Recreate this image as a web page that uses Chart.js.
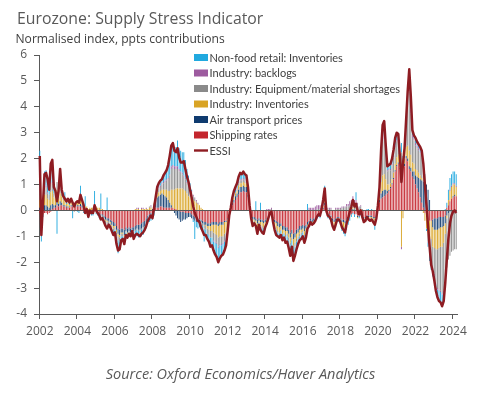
<!DOCTYPE html>
<html><head><meta charset="utf-8">
<script src="https://cdn.jsdelivr.net/npm/chart.js@4.4.1/dist/chart.umd.min.js"></script>
<style>
html,body{margin:0;padding:0;background:#fff;width:481px;height:395px;overflow:hidden;}
#wrap{position:relative;width:481px;height:395px;}
canvas{position:absolute;left:0;top:0;}
.t{position:absolute;font-family:"Open Sans",sans-serif;white-space:nowrap;}
#title{left:17px;top:10.5px;font-size:15.8px;line-height:15.8px;color:#595959;}
#sub{left:15.5px;top:33px;font-size:12.1px;line-height:12.1px;color:#404040;}
#src{left:0;width:481px;text-align:center;top:367px;font-size:14.5px;line-height:14.5px;font-style:italic;color:#595959;}
</style></head><body>
<div id="wrap">
<canvas id="c" width="481" height="395"></canvas>
<div class="t" id="title">Eurozone: Supply Stress Indicator</div>
<div class="t" id="sub">Normalised index, ppts contributions</div>
<div class="t" id="src">Source: Oxford Economics/Haver Analytics</div>
</div>
<script>
// Monthly data, Jan 2002 - Mar 2024
const START_YEAR = 2002;
const xTickYears = [2002,2004,2006,2008,2010,2012,2014,2016,2018,2020,2022,2024];
const yTicks = [-4,-3,-2,-1,0,1,2,3,4,5,6];

const essi = [
 2.1,-0.95,0.2,1.4,1.45,1.2,0.8,1.8,1.95,0.9,0.75,0.35,
 0.75,1.6,0.8,0.55,0.45,0.35,0.45,0.3,0.45,0.3,0.15,0.3,
 0.35,0.3,0.6,0.4,0.2,-0.1,0.05,-0.25,0.0,-0.1,-0.1,0.2,
 0.0,-0.1,-0.2,-0.35,-0.3,-0.45,-0.6,-0.7,-0.55,-0.65,-0.8,-0.95,
 -0.85,-1.3,-1.55,-1.5,-1.15,-1.1,-1.3,-0.95,-1.05,-0.9,-1.0,-0.8,
 -1.1,-0.95,-0.9,-0.95,-1.0,-0.9,-0.85,-0.75,-0.6,-0.4,-0.3,-0.2,
 -0.3,0.1,0.5,0.9,1.05,1.15,1.2,1.35,1.45,1.55,1.75,2.1,
 2.5,2.6,2.3,2.25,2.4,2.05,1.85,1.85,1.9,1.6,1.3,1.1,
 0.8,0.5,0.15,-0.1,-0.25,-0.4,-0.45,-0.65,-0.8,-0.95,-0.95,-1.1,
 -1.2,-1.4,-1.35,-1.55,-1.7,-1.8,-2.0,-1.85,-1.75,-1.7,-1.55,-1.35,
 -0.8,-0.2,0.1,0.5,0.75,0.9,1.05,1.3,1.45,1.4,1.5,1.4,
 1.35,0.9,0.2,-0.3,-0.6,-0.5,-0.6,-0.9,-0.55,-0.75,-0.85,-0.9,
 -0.65,-0.5,-0.3,-0.1,-0.05,-0.45,-0.75,-0.95,-1.0,-1.05,-0.95,-1.15,
 -1.05,-1.25,-1.2,-1.45,-1.75,-1.4,-1.95,-1.75,-1.5,-1.3,-1.15,-1.1,
 -1.0,-1.25,-1.05,-0.7,-0.6,-0.45,-0.55,-0.5,-0.4,-0.25,-0.15,-0.2,
 0.05,0.4,0.85,0.0,-0.2,-0.25,-0.35,-0.6,-0.75,-0.55,-0.35,-0.35,
 -0.45,-0.65,-0.75,-0.85,-0.5,-0.3,-0.05,0.15,0.4,0.15,0.25,0.0,
 -0.15,0.0,-0.25,-0.45,-0.4,-0.25,-0.35,-0.4,-0.35,-0.45,-0.55,-0.3,
 0.2,0.9,2.3,3.3,3.45,2.5,1.7,1.75,1.8,2.0,2.35,2.8,
 3.0,2.95,2.1,1.1,1.8,2.4,3.5,4.6,5.45,4.4,3.1,2.9,
 2.8,2.65,2.55,2.45,2.3,1.8,1.0,0.2,-0.6,-1.4,-2.1,-2.35,
 -2.7,-3.1,-3.35,-3.5,-3.55,-3.7,-3.5,-2.8,-1.9,-1.1,-0.5,-0.2,
 -0.05,0.0,-0.1
];

const shipping = [
 -0.1,-0.2,-0.15,-0.1,-0.1,-0.15,-0.1,-0.05,0.05,0.1,0.1,0.2,
 0.15,0.2,0.2,0.15,0.15,0.1,0.1,0.1,0.15,0.15,0.1,0.15,
 0.15,0.15,0.15,0.1,0.1,0.05,0.05,0,0,0,0,0,
 -0.05,-0.1,-0.1,-0.15,-0.15,-0.2,-0.25,-0.3,-0.3,-0.35,-0.4,-0.45,
 -0.5,-0.6,-0.7,-0.75,-0.7,-0.7,-0.75,-0.65,-0.7,-0.65,-0.7,-0.65,
 -0.65,-0.6,-0.55,-0.55,-0.55,-0.5,-0.45,-0.4,-0.3,-0.2,-0.15,-0.1,
 -0.1,0.05,0.1,0.1,0.1,0.15,0.15,0.1,0.1,0.1,0.1,0.1,
 0.1,0.1,0.05,0.05,0,0,-0.05,-0.05,-0.05,-0.1,-0.1,-0.1,
 -0.1,-0.15,-0.2,-0.25,-0.3,-0.3,-0.35,-0.35,-0.4,-0.45,-0.45,-0.5,
 -0.5,-0.5,-0.45,-0.45,-0.45,-0.45,-0.5,-0.45,-0.45,-0.45,-0.4,-0.4,
 -0.3,-0.1,0.05,0.2,0.3,0.4,0.5,0.6,0.7,0.7,0.75,0.7,
 0.7,0.5,0.1,-0.15,-0.25,-0.25,-0.3,-0.35,-0.3,-0.35,-0.35,-0.4,
 -0.35,-0.3,-0.2,-0.1,-0.05,-0.25,-0.35,-0.4,-0.45,-0.5,-0.5,-0.6,
 -0.6,-0.65,-0.65,-0.75,-0.85,-0.75,-0.9,-0.85,-0.75,-0.7,-0.6,-0.6,
 -0.55,-0.6,-0.55,-0.45,-0.4,-0.3,-0.35,-0.3,-0.3,-0.25,-0.2,-0.2,
 -0.1,0.05,0.2,-0.05,-0.15,-0.15,-0.2,-0.3,-0.35,-0.3,-0.25,-0.25,
 -0.3,-0.35,-0.35,-0.4,-0.3,-0.25,-0.2,-0.15,-0.1,-0.15,-0.15,-0.2,
 -0.2,-0.15,-0.2,-0.25,-0.25,-0.2,-0.2,-0.2,-0.2,-0.25,-0.25,-0.15,
 0.1,0.3,0.45,0.5,0.55,0.6,0.65,0.75,0.85,1.0,1.2,1.5,
 1.7,1.8,1.6,1.6,1.7,1.7,2.0,1.9,1.6,1.5,1.3,1.2,
 1.0,0.85,0.7,0.5,0.3,0.1,-0.1,-0.25,-0.35,-0.4,-0.4,-0.35,
 -0.3,-0.3,-0.3,-0.25,-0.25,-0.25,-0.25,-0.2,0.1,0.2,0.35,0.45,
 0.5,0.55,0.55
];

const airTransport = [
 0.1,0.1,0.15,0.2,0.2,0.15,0.1,0.2,0.2,0.1,0.1,0.2,
 0.1,0.15,0.1,0.05,0.05,0.05,0.05,0,0.05,0.05,0,0.05,
 0.05,0.05,0.1,0.1,0.05,0,0,-0.05,0,-0.05,0,0,
 0,0,-0.05,-0.05,-0.05,-0.1,-0.1,-0.1,-0.1,-0.1,-0.15,-0.15,
 -0.1,-0.15,-0.2,-0.2,-0.15,-0.15,-0.2,-0.15,-0.15,-0.15,-0.15,-0.1,
 -0.15,-0.15,-0.15,-0.2,-0.2,-0.2,-0.2,-0.2,-0.2,-0.15,-0.1,-0.1,
 0.05,0.2,0.3,0.4,0.45,0.45,0.5,0.5,0.45,0.4,0.3,0.2,
 0.1,0,-0.1,-0.2,-0.3,-0.35,-0.4,-0.35,-0.3,-0.25,-0.2,-0.15,
 -0.15,-0.15,-0.15,-0.15,-0.15,-0.1,-0.1,-0.1,-0.1,-0.1,-0.1,-0.1,
 -0.1,-0.1,-0.1,-0.1,-0.1,-0.1,-0.1,-0.1,-0.1,-0.1,-0.05,-0.05,
 -0.05,0,0.05,0.1,0.1,0.15,0.15,0.2,0.2,0.2,0.2,0.2,
 0.2,0.1,0,-0.05,-0.1,-0.1,-0.1,-0.15,-0.1,-0.1,-0.1,-0.1,
 -0.1,-0.05,-0.05,0,0,-0.05,-0.1,-0.1,-0.15,-0.15,-0.1,-0.15,
 -0.15,-0.15,-0.15,-0.15,-0.2,-0.15,-0.2,-0.2,-0.15,-0.15,-0.15,-0.15,
 -0.15,-0.2,-0.15,-0.1,-0.1,-0.1,-0.1,-0.1,-0.05,-0.05,0,0,
 0,0.05,0.1,0,-0.05,-0.05,-0.05,-0.1,-0.1,-0.1,-0.05,-0.05,
 -0.05,-0.1,-0.1,-0.1,-0.05,-0.05,0,0,0.05,0,0,-0.05,
 -0.05,0,-0.05,-0.05,-0.05,-0.05,-0.05,-0.05,-0.05,-0.05,-0.05,-0.05,
 0,0.1,0.2,0.25,0.25,0.2,0.1,0.05,0.05,0.05,0.05,0.05,
 0.05,0.05,0.05,0.05,0.05,0.1,0.1,0.1,0.1,0.15,0.2,0.3,
 0.35,0.45,0.55,0.7,0.85,1.0,1.05,1.0,0.8,0.4,0.0,-0.3,
 -0.45,-0.45,-0.45,-0.45,-0.4,-0.4,-0.35,-0.3,-0.2,-0.1,-0.05,0,
 0.05,0.05,0
];

const indInventories = [
 0.3,0.1,0.2,0.4,0.4,0.3,0.3,0.5,0.5,0.3,0.25,0.4,
 0.2,0.3,0.25,0.2,0.15,0.1,0.15,0.1,0.15,0.1,0.05,0.1,
 0.2,0.2,0.25,0.2,0.15,0.1,0.1,0.05,0.1,0.1,0.1,0.15,
 0.15,0.1,0.1,0.05,0.05,0,-0.05,-0.05,0,-0.05,-0.05,-0.1,
 -0.05,-0.1,-0.1,-0.1,-0.05,-0.05,-0.05,0,-0.05,0,-0.05,0,
 0,0.05,0.05,0.05,0,0.05,0.05,0.05,0.05,0.05,0.1,0.1,
 0,0.05,0.05,0.1,0.15,0.15,0.15,0.2,0.25,0.3,0.35,0.45,
 0.6,0.7,0.75,0.8,0.85,0.85,0.85,0.85,0.8,0.75,0.65,0.55,
 0.5,0.45,0.4,0.35,0.3,0.25,0.2,0.1,0.05,0,-0.05,-0.1,
 -0.15,-0.2,-0.25,-0.3,-0.35,-0.4,-0.45,-0.45,-0.45,-0.45,-0.45,-0.4,
 -0.2,-0.05,0,0.05,0.1,0.1,0.1,0.15,0.15,0.15,0.15,0.15,
 0.15,0.1,0.05,-0.05,-0.1,-0.05,-0.1,-0.15,-0.05,-0.1,-0.15,-0.15,
 -0.1,-0.1,-0.05,-0.05,0,-0.1,-0.15,-0.2,-0.2,-0.2,-0.15,-0.15,
 -0.1,-0.15,-0.1,-0.15,-0.2,-0.15,-0.25,-0.2,-0.2,-0.15,-0.15,-0.1,
 -0.1,-0.15,-0.1,-0.05,-0.05,0,-0.05,-0.05,0,0,0,0,
 0,0.05,0.1,0,-0.05,-0.05,-0.05,-0.1,-0.15,-0.1,-0.05,-0.05,
 -0.1,-0.15,-0.2,-0.2,-0.15,-0.1,-0.05,0,0.05,0,0,-0.05,
 0,0.05,0,-0.05,-0.05,0,-0.05,-0.05,-0.05,-0.05,-0.1,0,
 0.05,0.2,0.45,0.6,0.6,0.4,0.25,0.2,0.15,0.15,0.2,0.25,
 0.3,0.3,0.1,-1.4,-0.3,0.2,0.35,0.5,0.6,0.5,0.35,0.3,
 0.25,0.25,0.2,0.15,0.1,-0.1,-0.3,-0.45,-0.55,-0.65,-0.7,-0.75,
 -0.7,-0.75,-0.75,-0.75,-0.75,-0.75,-0.65,-0.4,-0.1,0.2,0.4,0.45,
 0.45,0.4,0.35
];

const equipShortages = [
 0.4,0.05,0.1,0.3,0.3,0.2,0.2,0.3,0.3,0.15,0.1,0.3,
 0.1,0.2,0.1,0.05,0.05,0,0.05,0,0.05,0,-0.05,0,
 0,0,0.05,0,-0.05,-0.1,-0.05,-0.1,-0.05,-0.05,-0.05,-0.05,
 -0.05,-0.05,-0.05,-0.1,-0.05,-0.1,-0.1,-0.1,-0.1,-0.1,-0.1,-0.1,
 -0.1,-0.15,-0.15,-0.15,-0.1,-0.1,-0.1,-0.05,-0.1,-0.05,-0.05,-0.05,
 -0.1,-0.05,-0.05,-0.05,-0.1,-0.05,-0.05,-0.05,0,0,0.05,0.05,
 0,0,0.05,0.1,0.15,0.15,0.2,0.25,0.3,0.35,0.45,0.6,
 0.8,0.85,0.8,0.75,0.75,0.65,0.6,0.55,0.5,0.45,0.4,0.35,
 0.3,0.25,0.15,0.1,0.05,0,-0.05,-0.1,-0.1,-0.15,-0.15,-0.2,
 -0.2,-0.25,-0.25,-0.3,-0.3,-0.3,-0.35,-0.3,-0.3,-0.25,-0.25,-0.2,
 -0.1,-0.05,0,0,0.05,0.05,0.05,0.1,0.1,0.1,0.1,0.1,
 0.1,0.05,0,-0.05,-0.05,-0.05,-0.05,-0.1,-0.05,-0.05,-0.1,-0.1,
 -0.05,-0.05,0,0,0.05,0,-0.05,-0.05,-0.05,-0.05,-0.05,-0.05,
 -0.05,-0.1,-0.1,-0.1,-0.1,-0.1,-0.15,-0.15,-0.1,-0.1,-0.1,-0.1,
 -0.05,-0.05,-0.05,0,0,0,0,0,0,0.05,0.05,0.05,
 0.05,0.1,0.1,0.05,0.05,0.05,0.05,0,0,0.05,0.05,0.05,
 0.05,0.1,0.1,0.1,0.15,0.15,0.2,0.25,0.3,0.25,0.25,0.2,
 0.1,0.1,0.05,0,0,0,-0.05,-0.05,-0.05,-0.05,-0.05,0,
 0.05,0.2,0.8,1.3,1.35,0.9,0.5,0.55,0.5,0.55,0.6,0.65,
 0.6,0.55,0.25,0.6,0.3,0.3,0.75,1.5,2.3,1.6,0.95,0.9,
 0.9,0.85,0.85,0.85,0.8,0.6,0.3,0.0,-0.3,-0.6,-0.85,-0.8,
 -1.0,-1.3,-1.5,-1.6,-1.7,-1.8,-1.85,-1.9,-1.9,-1.8,-1.7,-1.6,
 -1.55,-1.5,-1.5
];

const backlogs = [
 0.05,0,0,0.05,0.05,0.05,0,0.05,0.05,0,0,0,
 0,0.05,0,0,0,0,0,0,0,0,0,0,
 0,0,0,0,0,0,0,0,0,0,0,0,
 0,0,0,0,0,0,0,0,0,0,0,0,
 0,0,0,0,0,0,0,0,0,0,0,0,
 0,0,0.05,0.05,0,0.05,0.05,0,0.05,0,0,0.05,
 0,0,0,0.05,0.05,0.05,0.05,0.05,0.05,0.05,0.05,0.05,
 0.1,0.1,0.1,0.1,0.1,0.1,0.05,0.05,0.05,0.05,0.05,0.05,
 0.05,0.05,0.05,0.05,0.05,0.05,0,0,0,0,0,0,
 0,0,0,-0.05,-0.05,-0.05,-0.05,-0.05,-0.05,-0.05,-0.05,0,
 0,0,0,0,0,0,0.05,0.05,0.05,0.05,0.05,0.05,
 0.05,0.05,0,0,0,0,0,0,0,0,0,0,
 0,0.05,0.05,0.05,0.05,0,0,0,0,0,0,0,
 0,0,0,0,0,0,0,0,0,0,0,0,
 0,0,0,0,0.1,0.1,0.1,0.1,0.15,0.15,0.15,0.15,
 0.1,0.1,0.1,0.05,0.05,0.05,0.05,0,0,0.05,0.05,0.05,
 0.05,0.05,0.05,0.05,0.1,0.1,0.15,0.15,0.15,0.15,0.15,0.1,
 0.05,0.05,0,-0.05,-0.05,-0.05,-0.05,-0.05,-0.05,-0.05,-0.05,-0.05,
 0,0.05,0.15,0.2,0.2,0.15,0.05,0.05,0.05,0.05,0.05,0.05,
 0.05,0.05,0.05,-0.1,0,0.05,0.1,0.15,0.2,0.15,0.1,0.1,
 0.1,0.1,0.1,0.05,0.05,0.05,0,0,-0.05,-0.05,-0.05,-0.05,
 -0.05,-0.05,-0.05,-0.05,-0.05,-0.05,-0.05,-0.05,0,0,0.05,0.05,
 0.05,0.05,0.05
];

const nonFoodInv = [
 1.45,-1.0,-0.1,0.55,0.6,0.65,0.3,0.8,0.85,0.25,0.2,-0.9,
 0.2,0.7,0.15,0.1,0.3,0.1,0.1,0.1,0.05,-0.3,0.05,0,
 -0.05,-0.1,0.4,0,-0.05,0.4,-0.05,-0.15,-0.05,-0.1,-0.15,0.6,
 -0.05,-0.05,-0.1,0.6,-0.1,-0.05,-0.1,0.5,-0.05,-0.05,-0.1,-0.15,
 -0.1,-0.4,-0.5,-0.35,-0.15,-0.1,-0.2,-0.1,-0.05,-0.05,-0.05,0,
 -0.2,-0.2,-0.25,-0.25,-0.15,-0.25,-0.25,-0.15,-0.2,-0.1,-0.2,-0.2,
 -0.25,-0.2,0,0.15,0.15,0.2,0.15,0.25,0.3,0.35,0.5,0.7,
 0.8,0.85,0.7,0.75,1.0,0.8,0.8,0.8,0.9,0.7,0.5,0.4,
 0.2,0.05,-0.1,-0.7,-0.2,-0.3,-0.15,-0.2,-0.25,-0.5,-0.2,-0.2,
 -0.25,-0.35,-0.3,-0.35,-0.45,-0.5,-0.55,-0.5,-0.4,-0.4,-0.35,-0.3,
 -0.15,0,0,0.15,0.2,0.2,0.2,0.2,0.25,0.2,0.25,0.2,
 0.15,0.1,0.05,0,-0.1,-0.05,0.35,-0.15,-0.05,0.3,-0.15,-0.15,
 -0.05,-0.05,-0.05,0,-0.1,-0.05,-0.1,-0.2,-0.15,-0.15,-0.15,-0.2,
 -0.15,-0.2,-0.2,-0.3,-0.4,-0.25,-0.45,-0.35,-0.3,-0.2,-0.15,-0.15,
 -0.15,-0.25,-0.2,0.25,-0.05,-0.05,-0.05,-0.05,-0.05,-0.05,-0.05,-0.1,
 0,0.05,0.35,-0.05,-0.05,-0.1,-0.15,-0.1,-0.15,-0.15,-0.1,-0.1,
 -0.1,-0.2,-0.25,-0.3,-0.25,-0.15,-0.15,-0.1,-0.05,-0.1,0.3,0,
 -0.05,-0.05,-0.05,-0.05,0,0.05,0.05,0,0.05,0,-0.25,-0.05,
 0,0.05,0.25,0.45,0.5,0.25,0.15,0.15,0.2,0.2,0.25,0.3,
 0.3,0.2,0.05,0.35,0.05,0.05,0.2,0.45,0.65,0.5,0.2,0.1,
 0.2,0.15,0.15,0.2,0.2,0.15,0.05,-0.1,-0.15,-0.25,-0.3,-0.3,
 -0.2,-0.25,-0.3,-0.4,-0.4,-0.45,-0.35,0.05,0.2,0.4,0.45,0.45,
 0.45,0.45,0.45
];

const months = essi.map((_, i) => (START_YEAR + Math.floor(i / 12)) + '-' + String(i % 12 + 1).padStart(2, '0'));

const COL = {
  nonfood: '#21A9DF', backlogs: '#9D5B9F', equip: '#8A8A8A',
  inv: '#D9A425', air: '#0F3B6F', ship: '#C4262E', essi: '#8E1C22'
};
const AXIS = '#595959';
const FONT = '"Open Sans", "Noto Sans", sans-serif';
const LEGEND_FONT = 'Lato, "Open Sans", sans-serif';

function barDs(label, data, color) {
  return { type: 'bar', label, data, backgroundColor: color, borderWidth: 0,
           stack: 'contrib', order: 1, barPercentage: 0.58, categoryPercentage: 1.0 };
}
const datasets = [
  barDs('Shipping rates', shipping, COL.ship),
  barDs('Air transport prices', airTransport, COL.air),
  barDs('Industry: Inventories', indInventories, COL.inv),
  barDs('Industry: Equipment/material shortages', equipShortages, COL.equip),
  barDs('Industry: backlogs', backlogs, COL.backlogs),
  barDs('Non-food retail: Inventories', nonFoodInv, COL.nonfood),
  { type: 'line', label: 'ESSI', data: essi, borderColor: COL.essi, backgroundColor: COL.essi,
    borderWidth: 2.5, pointRadius: 0, tension: 0, stack: 'line', order: 0, borderJoinStyle: 'round' }
];
const LINE_INDEX = 6;
const legendOrder = [5, 4, 3, 2, 1, 0, 6];

const zeroLine = {
  id: 'zeroLine',
  beforeDatasetDraw(chart, args) {
    if (args.index !== LINE_INDEX) return;
    const {ctx, chartArea} = chart;
    const y = Math.round(chart.scales.y.getPixelForValue(0)) + 0.5;
    ctx.save();
    ctx.strokeStyle = AXIS; ctx.lineWidth = 1;
    ctx.beginPath(); ctx.moveTo(chartArea.left, y); ctx.lineTo(chartArea.right, y); ctx.stroke();
    ctx.restore();
  }
};

const inLegend = {
  id: 'inLegend',
  afterDraw(chart) {
    const ctx = chart.ctx;
    ctx.save();
    ctx.font = '11px ' + LEGEND_FONT;
    ctx.textBaseline = 'middle';
    legendOrder.forEach((di, row) => {
      const ds = chart.data.datasets[di];
      const y = 57.5 + 15.5 * row;
      const x0 = 194, w = 14;
      if (ds.type === 'line') {
        ctx.strokeStyle = ds.borderColor; ctx.lineWidth = 2.4;
        ctx.beginPath(); ctx.moveTo(x0, y); ctx.lineTo(x0 + w, y); ctx.stroke();
      } else {
        ctx.fillStyle = ds.backgroundColor;
        ctx.fillRect(x0, y - 3.5, w, 7);
      }
      ctx.fillStyle = '#404040';
      ctx.fillText(ds.label, x0 + w + 1.5, y + 0.5);
    });
    ctx.restore();
  }
};

new Chart(document.getElementById('c'), {
  data: { labels: months, datasets },
  options: {
    responsive: false, animation: false, events: [],
    layout: { padding: { top: 55, right: 24, bottom: 0, left: 0 } },
    plugins: { legend: { display: false }, tooltip: { enabled: false }, title: { display: false } },
    scales: {
      x: {
        type: 'category', stacked: true, offset: true,
        afterFit: (s) => { s.height = 81; },
        border: { color: AXIS, width: 1 },
        grid: { offset: true, drawOnChartArea: false, tickLength: 5,
                tickColor: (c) => (c.index % 24 === 0) ? AXIS : 'rgba(0,0,0,0)' },
        ticks: { autoSkip: false, maxRotation: 0, minRotation: 0, padding: 5,
                 color: AXIS, font: { family: FONT, size: 12 },
                 callback: (v, i) => {
                   const yr = START_YEAR + i / 12;
                   return (i % 12 === 0 && xTickYears.includes(yr)) ? String(yr) : '';
                 } }
      },
      y: {
        stacked: true, min: yTicks[0], max: yTicks[yTicks.length - 1],
        afterFit: (s) => { s.width = 39; },
        afterBuildTicks: (s) => { s.ticks = yTicks.map(v => ({ value: v })); },
        border: { color: AXIS, width: 1 },
        grid: { drawOnChartArea: false, tickLength: 5, tickColor: AXIS },
        ticks: { padding: 7, color: AXIS, font: { family: FONT, size: 12 } }
      }
    }
  },
  plugins: [zeroLine, inLegend]
});
</script>
</body></html>
